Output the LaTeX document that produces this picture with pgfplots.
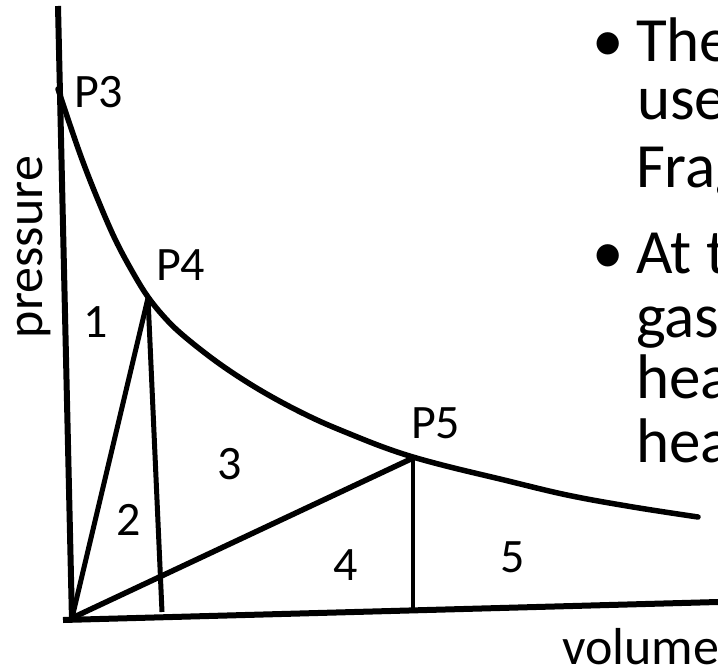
\documentclass[border=0pt]{standalone}
\usepackage{fontspec}
\setmainfont{Carlito}
\usepackage{pgfplots}
\pgfplotsset{compat=1.18}
\begin{document}
\begin{tikzpicture}
\begin{axis}[
  scale only axis, width=718bp, height=669bp,
  xmin=0, xmax=718, ymin=0, ymax=669, y dir=reverse,
  axis lines=none, clip=false,
  every axis plot/.append style={black, no markers, line cap=round},
]
% axes
\addplot[line width=6bp, line cap=butt] coordinates {(58,6) (72,621)};
\addplot[line width=6bp, line cap=butt] coordinates {(63,620) (718,602)};
% curve
\addplot[line width=5.5bp, smooth, tension=0.6] coordinates {
 (58,89) (70,125) (83,162) (98,200) (115,239) (132,271) (148,297)
 (166,319) (185,337) (217,362) (250,384) (283,403) (317,420) (350,434) (383,447)
 (413,457) (450,467) (500,479) (567,495) (633,507) (698,517)};
% internal lines
\addplot[line width=5bp] coordinates {(72,618) (148,298)};
\addplot[line width=5bp, line cap=butt] coordinates {(148,298) (162,612)};
\addplot[line width=5.5bp] coordinates {(72,618) (413,458)};
\addplot[line width=4.5bp, line cap=butt] coordinates {(413,458) (413,610)};
% labels
\begin{scope}[every node/.style={inner sep=0pt, outer sep=0pt, font=\fontsize{48bp}{50bp}\selectfont}]
\node[anchor=base west] at (axis cs:74,108) {P3};
\node[anchor=base west] at (axis cs:156,280) {P4};
\node[anchor=base west] at (axis cs:411,438) {P5};
\node[anchor=base west] at (axis cs:83,337) {1};
\node[anchor=base west] at (axis cs:116,535) {2};
\node[anchor=base west] at (axis cs:217,479) {3};
\node[anchor=base west] at (axis cs:333,580) {4};
\node[anchor=base west] at (axis cs:500,572) {5};
\end{scope}
\begin{scope}[every node/.style={inner sep=0pt, outer sep=0pt, font=\fontsize{52bp}{54bp}\selectfont}]
\node[anchor=base west] at (axis cs:562,664) {volume};
\node[anchor=base west, rotate=90] at (axis cs:42,338) {pressure};
\end{scope}
\begin{scope}[every node/.style={inner sep=0pt, outer sep=0pt, font=\fontsize{63bp}{66bp}\selectfont}]
\node[anchor=base] at (axis cs:608,62) {•};
\node[anchor=base west] at (axis cs:636,62) {The};
\node[anchor=base west] at (axis cs:637,120) {use};
\node[anchor=base west] at (axis cs:636,187) {Frag};
\node[anchor=base] at (axis cs:608,273) {•};
\node[anchor=base west] at (axis cs:636,273) {At t};
\node[anchor=base west] at (axis cs:636,337) {gas};
\node[anchor=base west] at (axis cs:636,398) {hea};
\node[anchor=base west] at (axis cs:636,462) {hea};
\end{scope}
\end{axis}
\pgfresetboundingbox
\useasboundingbox (0,0) rectangle (718bp,669bp);
\end{tikzpicture}
\end{document}
